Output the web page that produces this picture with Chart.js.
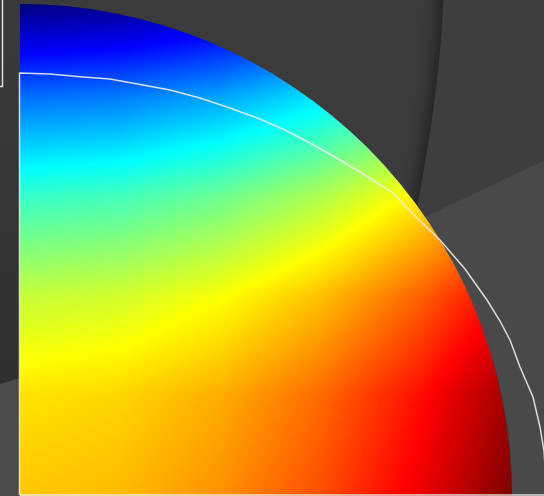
<!DOCTYPE html>
<html>
<head>
<meta charset="utf-8">
<style>
html,body{margin:0;padding:0;background:#3b3b3b;overflow:hidden}
canvas{display:block}
</style>
<script src="https://cdn.jsdelivr.net/npm/chart.js@4/dist/chart.umd.min.js"></script>
</head>
<body>
<canvas id="c" width="544" height="496"></canvas>
<script>
// ---- data (units: disc centre at 0,0; disc radius 492) ----
const discRadius = 492;
const gridX = [0, 100, 200, 300, 400, 500];
const gridY = [0, 100, 200, 300, 400, 500];
// field value (0 = low end of colour scale, 1 = high end) read at grid nodes; rows follow gridY
const fieldValues = [
  [0.680, 0.693, 0.733, 0.799, 0.892, 1.011],
  [0.652, 0.665, 0.705, 0.771, 0.863, 0.982],
  [0.568, 0.581, 0.620, 0.686, 0.779, 0.898],
  [0.427, 0.440, 0.480, 0.546, 0.638, 0.757],
  [0.231, 0.244, 0.283, 0.349, 0.442, 0.561],
  [-0.022, -0.009, 0.030, 0.097, 0.189, 0.308]
];
const colourMin = 0, colourMax = 1;
// white outline
const outlineX = [-0.5, -0.5, 30, 63, 90, 123, 150, 180, 210, 240, 265, 290, 315, 340, 373, 395, 420, 445, 467, 480, 490, 500, 513, 520, 524, 527, -0.5];
const outlineY = [1, 423, 422, 419, 417, 411, 406, 398, 388, 377, 366, 353, 339, 324, 303, 280, 256, 227, 196, 175, 156, 129, 99, 69, 45, 1, 1];

function jet(t){
  const c = v => Math.max(0, Math.min(1, v));
  return [c(1.5 - Math.abs(4*t - 3)), c(1.5 - Math.abs(4*t - 2)), c(1.5 - Math.abs(4*t - 1))];
}
function idx(arr, v){
  let i = 0;
  while (i < arr.length - 2 && v > arr[i+1]) i++;
  return i;
}
function fieldAt(xv, yv){
  const i = idx(gridX, xv), j = idx(gridY, yv);
  let tx = (xv - gridX[i]) / (gridX[i+1] - gridX[i]);
  let ty = (yv - gridY[j]) / (gridY[j+1] - gridY[j]);
  tx = Math.max(0, Math.min(1, tx)); ty = Math.max(0, Math.min(1, ty));
  const a = fieldValues[j][i], b = fieldValues[j][i+1];
  const c = fieldValues[j+1][i], d = fieldValues[j+1][i+1];
  return (a*(1-tx) + b*tx)*(1-ty) + (c*(1-tx) + d*tx)*ty;
}

const backdrop = {
  id: 'backdrop',
  beforeDraw(chart){
    const ctx = chart.ctx, W = chart.width, H = chart.height;
    ctx.save();
    ctx.fillStyle = '#3b3b3b';
    ctx.fillRect(0, 0, W, H);
    // left strip
    const g = ctx.createLinearGradient(0, 0, 0, 385);
    g.addColorStop(0, '#3a3a3a'); g.addColorStop(1, '#303030');
    ctx.fillStyle = g;
    ctx.fillRect(0, 0, 22, 385);
    // upper right panel with shadow
    ctx.save();
    ctx.shadowColor = 'rgba(0,0,0,0.45)';
    ctx.shadowBlur = 16;
    ctx.shadowOffsetX = -5;
    ctx.fillStyle = '#3e3e3e';
    ctx.beginPath();
    ctx.moveTo(444, -20);
    ctx.bezierCurveTo(442, 70, 428, 150, 412, 235);
    ctx.lineTo(560, 160);
    ctx.lineTo(560, -20);
    ctx.closePath();
    ctx.fill();
    ctx.restore();
    // lower right lighter panel
    ctx.fillStyle = '#494949';
    ctx.beginPath();
    ctx.moveTo(360, 248);
    ctx.lineTo(425, 217);
    ctx.lineTo(560, 153);
    ctx.lineTo(560, 500);
    ctx.lineTo(360, 500);
    ctx.closePath();
    ctx.fill();
    // lower left lighter panel
    ctx.fillStyle = '#4a4a4a';
    ctx.beginPath();
    ctx.moveTo(-2, 384.5);
    ctx.lineTo(60, 366);
    ctx.lineTo(60, 500);
    ctx.lineTo(-2, 500);
    ctx.closePath();
    ctx.fill();
    // top-left box border
    ctx.strokeStyle = '#dcdcdc';
    ctx.lineWidth = 1.5;
    ctx.beginPath();
    ctx.moveTo(2.5, -2);
    ctx.lineTo(2.5, 86.5);
    ctx.lineTo(-2, 86.5);
    ctx.stroke();
    ctx.restore();
  }
};

const heatmap = {
  id: 'heatmap',
  beforeDatasetsDraw(chart){
    const ctx = chart.ctx;
    const xs = chart.scales.x, ys = chart.scales.y;
    const W = chart.width, H = chart.height;
    const off = document.createElement('canvas');
    off.width = W; off.height = H;
    const octx = off.getContext('2d');
    const img = octx.createImageData(W, H);
    for (let py = 0; py < H; py++){
      const yv = ys.getValueForPixel(py + 0.5);
      for (let px = 0; px < W; px++){
        const xv = xs.getValueForPixel(px + 0.5);
        if (xv < -2 || yv < -2 || xv*xv + yv*yv > (discRadius + 3)*(discRadius + 3)) continue;
        const t = (fieldAt(xv, yv) - colourMin) / (colourMax - colourMin);
        const c = jet(t);
        const k = (py*W + px)*4;
        img.data[k] = Math.round(c[0]*255);
        img.data[k+1] = Math.round(c[1]*255);
        img.data[k+2] = Math.round(c[2]*255);
        img.data[k+3] = 255;
      }
    }
    octx.putImageData(img, 0, 0);
    const cx = xs.getPixelForValue(0), cy = ys.getPixelForValue(0);
    const rx = xs.getPixelForValue(discRadius) - cx;
    const ry = cy - ys.getPixelForValue(discRadius);
    ctx.save();
    ctx.beginPath();
    ctx.moveTo(cx, cy + 2);
    ctx.lineTo(cx, cy - ry);
    ctx.ellipse(cx, cy, rx, ry, 0, -Math.PI/2, 0);
    ctx.lineTo(cx + rx, cy + 2);
    ctx.closePath();
    ctx.clip();
    ctx.drawImage(off, 0, 0);
    ctx.restore();
  }
};

const outline = outlineX.map((x, i) => ({x: x, y: outlineY[i]}));

new Chart(document.getElementById('c'), {
  type: 'scatter',
  data: {
    datasets: [{
      data: outline,
      showLine: true,
      borderColor: 'rgba(236,236,236,0.9)',
      borderWidth: 1.5,
      pointRadius: 0,
      tension: 0,
      fill: false,
      clip: false
    }]
  },
  options: {
    responsive: false,
    animation: false,
    devicePixelRatio: 1,
    layout: {padding: 0},
    plugins: {legend: {display: false}, tooltip: {enabled: false}, title: {display: false}},
    scales: {
      x: {type: 'linear', min: -20, max: 524, display: false},
      y: {type: 'linear', min: 0, max: 496, display: false}
    }
  },
  plugins: [backdrop, heatmap]
});
</script>
</body>
</html>
